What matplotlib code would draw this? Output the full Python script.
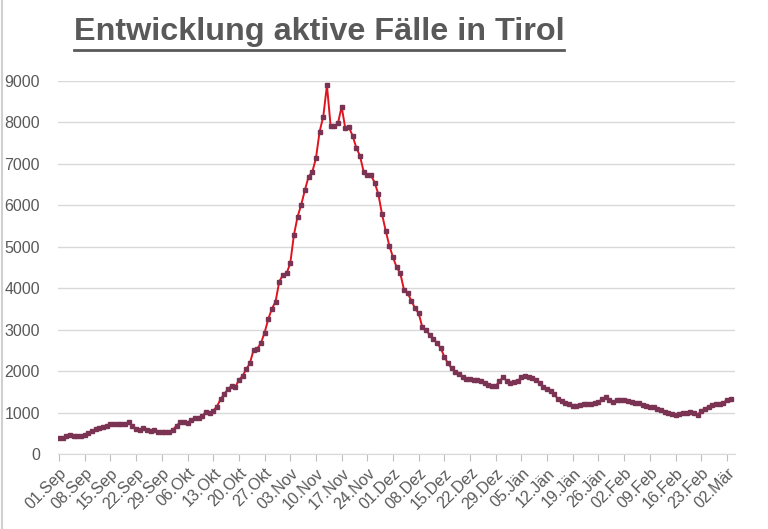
import numpy as np
import pandas as pd
import matplotlib
matplotlib.use("Agg")
import matplotlib.pyplot as plt
from matplotlib.lines import Line2D

# aktive Fälle Tirol, täglich ab 01.09.2020
faelle_sep = [390, 390, 430, 470, 450, 430, 430, 470, 510, 550,
              610, 635, 660, 690, 720, 720, 720, 720, 740, 770,
              690, 610, 590, 635, 590, 570, 590, 540, 530, 530,
              540, 590, 690, 770]
faelle_okt_nov = [787, 763, 827, 867, 884, 924, 1028, 988, 1052, 1149,
                  1325, 1454, 1566, 1647, 1614, 1791, 1888, 2048, 2193, 2514,
                  2546, 2675, 2932, 3253, 3510, 3679, 4161, 4321, 4361, 4602,
                  5285, 5727, 6016, 6369, 6691, 6803, 7133, 7775, 8137, 8892,
                  7912, 7912, 7976, 8378, 7855, 7880, 7671, 7390, 7189, 6811,
                  6723, 6723, 6546, 6273, 5791, 5390, 5028, 4747, 4506, 4361,
                  3960, 3880, 3703, 3518, 3398, 3060, 2996, 2876, 2780, 2680]
faelle_dez_maer = [2560, 2349, 2188, 2068, 1980, 1924, 1868, 1820, 1804, 1788,
                   1780, 1772, 1707, 1667, 1643, 1643, 1764, 1852, 1772, 1723,
                   1747, 1755, 1868, 1884, 1868, 1828, 1788, 1707, 1611, 1563,
                   1523, 1443, 1323, 1291, 1242, 1210, 1170, 1162, 1186, 1210,
                   1210, 1210, 1226, 1267, 1323, 1387, 1307, 1267, 1307, 1307,
                   1307, 1291, 1267, 1242, 1226, 1186, 1162, 1146, 1130, 1082,
                   1066, 1026, 1002, 970, 946, 962, 986, 1002, 1026, 986,
                   946, 1050, 1098, 1146, 1178, 1210, 1210, 1242, 1307, 1339]

faelle = faelle_sep + faelle_okt_nov + faelle_dez_maer
tage = pd.date_range("2020-09-01", periods=len(faelle), freq="D")

tick_labels = ["01.Sep", "08.Sep", "15.Sep", "22.Sep", "29.Sep", "06.Okt", "13.Okt",
               "20.Okt", "27.Okt", "03.Nov", "10.Nov", "17.Nov", "24.Nov", "01.Dez",
               "08.Dez", "15.Dez", "22.Dez", "29.Dez", "05.Jän", "12.Jän", "19.Jän",
               "26.Jän", "02.Feb", "09.Feb", "16.Feb", "23.Feb", "02.Mär"]
y_ticks = [0, 1000, 2000, 3000, 4000, 5000, 6000, 7000, 8000, 9000]

grau = "#595959"
plt.rcParams["font.family"] = ["Liberation Sans", "DejaVu Sans"]

fig = plt.figure(figsize=(7.68, 5.29), dpi=100)
ax = fig.add_axes([0.0755, 0.1412, 0.8815, 0.7061])

x = np.arange(len(faelle))
ax.plot(x, faelle, color="#e0141e", lw=1.4, zorder=3)
ax.plot(x, faelle, ls="none", marker="s", ms=2.2, color="#7b3354", zorder=4)

ax.set_xlim(-0.3, 184.2)
ax.set_ylim(0, 9000)
ax.set_yticks(y_ticks)
ax.set_yticklabels([str(v) for v in y_ticks], fontsize=11.5, color=grau)
ax.yaxis.grid(True, color="#d9d9d9", lw=1)
ax.set_axisbelow(True)
ax.tick_params(axis="y", length=0, pad=13)

ax.set_xticks(np.arange(0, len(faelle), 7)[:len(tick_labels)])
ax.set_xticklabels(tick_labels, rotation=45, ha="right", rotation_mode="anchor",
                   fontsize=11.5, color=grau)
ax.tick_params(axis="x", length=5, color="#bfbfbf", pad=3)

for s in ["top", "right", "left"]:
    ax.spines[s].set_visible(False)
ax.spines["bottom"].set_color("#d9d9d9")

# Titel mit Unterstrich
titel = fig.text(0.4155, 0.925, "Entwicklung aktive Fälle in Tirol", ha="center",
                 va="baseline", fontsize=23.3, fontweight="bold", color=grau)
fig.canvas.draw()
bb = titel.get_window_extent()
fig.add_artist(Line2D([bb.x0 / 768, bb.x1 / 768], [1 - 50 / 529, 1 - 50 / 529],
                      transform=fig.transFigure, color=grau, lw=2))

# linker Bildrand
fig.add_artist(Line2D([0.002, 0.002], [0, 1], transform=fig.transFigure,
                      color="#d0d0d0", lw=1.5))

fig.savefig("out.png", dpi=100)
